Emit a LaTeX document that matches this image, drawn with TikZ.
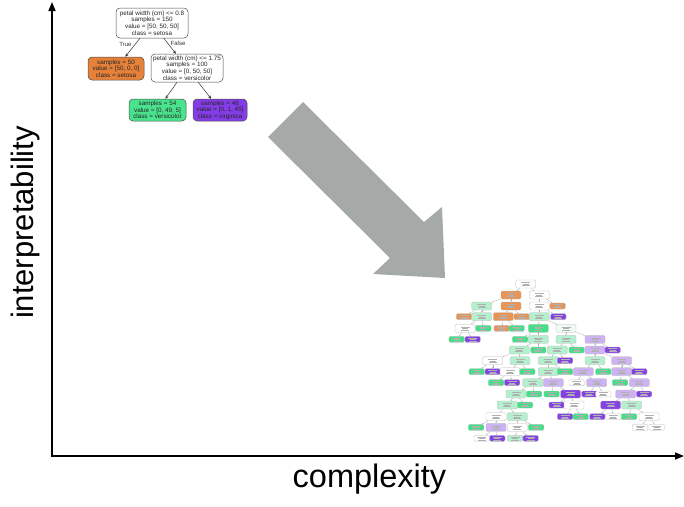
\documentclass[tikz,border=0pt]{standalone}
\usepackage{fontspec}
\setmainfont{Liberation Sans}
\usetikzlibrary{arrows.meta}
\definecolor{arrowgray}{HTML}{A5A9A8}
\definecolor{torange}{HTML}{E58139}
\definecolor{tgreen}{HTML}{4AE38D}
\definecolor{tpurple}{HTML}{843DE6}
\definecolor{corange}{HTML}{E89455}
\definecolor{cgreen}{HTML}{3FE184}
\definecolor{clgreen}{HTML}{B4F0CE}
\definecolor{cxgreen}{HTML}{EEFBF3}
\definecolor{cpurple}{HTML}{8442E3}
\definecolor{clpurple}{HTML}{CDB3F3}
\definecolor{txtgray}{HTML}{B0B0B0}
\begin{document}
\begin{tikzpicture}[x=1pt,y=-1pt,
  tbox/.style={draw=black!70, line width=0.5pt, rounded corners=4pt, inner sep=0pt,
    align=center, font=\fontsize{6.3}{6.6}\selectfont, text=black!85},
  tedge/.style={draw=black!80, line width=0.5pt, -{Stealth[length=3.5pt,width=3pt]}},
  elabel/.style={font=\fontsize{6}{6}\selectfont, text=black!80, inner sep=0pt},
  axis/.style={line width=1.6pt, -{Triangle[length=9pt,width=7pt]}},
  cnode/.style={draw=gray!55, line width=0.3pt, rounded corners=1.3pt, inner sep=0pt,
    path picture={\draw[txtgray, line width=0.3pt]
      ([shift={(-4.5pt,1.4pt)}]path picture bounding box.center) -- ++(9pt,0)
      ([shift={(-3pt,0pt)}]path picture bounding box.center) -- ++(6pt,0)
      ([shift={(-4pt,-1.4pt)}]path picture bounding box.center) -- ++(8pt,0);}},
  inode/.style={cnode, minimum width=20pt, minimum height=8pt},
  lnode/.style={cnode, minimum width=15.5pt, minimum height=6pt},
  cw/.style={fill=white}, co/.style={fill=corange}, cg/.style={fill=cgreen},
  clg/.style={fill=clgreen}, cxg/.style={fill=cxgreen}, cp/.style={fill=cpurple},
  clp/.style={fill=clpurple},
  cedge/.style={draw=gray!60, line width=0.3pt, -{Stealth[length=1.4pt,width=1.2pt]}}
]
\useasboundingbox (0,0) rectangle (684,506);

% axes
\coordinate (O) at (52,456);
\coordinate (ytip) at (52,2);
\coordinate (xtip) at (684,456);
\draw[axis] ([yshift=-0.8pt]O) -- (ytip);
\draw[axis] ([xshift=-0.8pt]O) -- (xtip);
\node[rotate=90, font=\fontsize{31}{31}\selectfont, inner sep=0pt] (ylab) at (25.5,222.5) {interpretability};
\node[font=\fontsize{32.5}{32.5}\selectfont, inner sep=0pt] (xlab) at (369.5,479) {complexity};

% big arrow
\fill[arrowgray] (303,102) -- (268,137) -- (390,258) -- (373,274) -- (445,278) -- (442,207) -- (424,222) -- cycle;

% small tree
\node[tbox, fill=white, minimum width=72pt, minimum height=30pt] (r) at (152,23)
  {petal width (cm) <= 0.8\\samples = 150\\value = [50, 50, 50]\\class = setosa};
\node[tbox, fill=torange, minimum width=56pt, minimum height=23pt] (l) at (116,68.5)
  {samples = 50\\value = [50, 0, 0]\\class = setosa};
\node[tbox, fill=white, minimum width=72pt, minimum height=28pt] (rr) at (187,68)
  {petal width (cm) <= 1.75\\samples = 100\\value = [0, 50, 50]\\class = versicolor};
\node[tbox, fill=tgreen, minimum width=57pt, minimum height=22pt] (g) at (157.5,110)
  {samples = 54\\value = [0, 49, 5]\\class = versicolor};
\node[tbox, fill=tpurple, minimum width=54pt, minimum height=22pt] (p) at (220,110)
  {samples = 46\\value = [0, 1, 45]\\class = virginica};
\draw[tedge] (r) -- (l);
\draw[tedge] (r) -- (rr);
\draw[tedge] (rr) -- (g);
\draw[tedge] (rr) -- (p);
\node[elabel] (tl) at (125.5,44) {True};
\node[elabel] (fl) at (178,43) {False};

% complex tree
\begin{scope}[shift={(440,270)}, x=0.33333pt, y=-0.33333pt]
\node[inode,cw] (R) at (257,42) {};
\node[inode,co] (A) at (213,75) {};
\node[inode,cw] (B) at (298,75) {};
\node[inode,clg] (C) at (125,108) {};
\node[inode,co] (D) at (213,108) {};
\node[inode,cw] (E) at (298,108) {};
\node[lnode,co] (F) at (353,108) {};
\node[lnode,co] (G) at (72,140) {};
\node[inode,clg] (H) at (125,140) {};
\node[inode,co] (I) at (190,140) {};
\node[lnode,co] (J) at (245,140) {};
\node[inode,clg] (K) at (298,140) {};
\node[lnode,cp] (L) at (355,140) {};
\node[inode,cw] (M) at (75,175) {};
\node[lnode,cg] (N) at (130,175) {};
\node[lnode,co] (Oo) at (185,175) {};
\node[lnode,cg] (P) at (230,175) {};
\node[inode,cg] (Q) at (295,175) {};
\node[inode,cxg] (S) at (378,175) {};
\node[lnode,cg] (M1) at (50,208) {};
\node[lnode,cp] (M2) at (98,208) {};
\node[lnode,cg] (Q1) at (240,208) {};
\node[inode,clg] (T2) at (295,208) {};
\node[inode,clg] (U1) at (378,208) {};
\node[inode,clp] (U2) at (465,208) {};
\node[inode,clg] (V) at (238,240) {};
\node[lnode,cg] (V2) at (295,240) {};
\node[inode,clg] (W) at (352,240) {};
\node[lnode,cg] (W2) at (410,240) {};
\node[inode,clp] (X) at (465,240) {};
\node[lnode,cp] (X2) at (518,240) {};
\node[inode,cw] (Y) at (158,272) {};
\node[inode,clg] (Z) at (240,272) {};
\node[inode,clg] (AA) at (325,272) {};
\node[lnode,cp] (W3) at (375,272) {};
\node[inode,clg] (AB) at (465,272) {};
\node[inode,clp] (AC) at (545,272) {};
\node[lnode,cg] (Y1) at (110,305) {};
\node[lnode,cp] (Y2) at (158,305) {};
\node[inode,cw] (AD) at (210,305) {};
\node[lnode,cg] (Z2) at (262,305) {};
\node[inode,clg] (AE) at (325,305) {};
\node[lnode,cg] (AA2) at (375,305) {};
\node[inode,clp] (AF) at (430,305) {};
\node[lnode,cg] (AB2) at (490,305) {};
\node[inode,clp] (AG) at (545,305) {};
\node[lnode,cp] (AC2) at (598,305) {};
\node[lnode,cg] (AD1) at (168,338) {};
\node[lnode,cp] (AD2) at (216,338) {};
\node[inode,clg] (AH) at (278,338) {};
\node[inode,clp] (AI) at (340,338) {};
\node[lnode,cw] (AF1) at (410,338) {};
\node[inode,clp] (AJ) at (470,338) {};
\node[lnode,cg] (AG1) at (540,338) {};
\node[inode,clp] (AK) at (598,338) {};
\node[inode,clg] (AL) at (228,372) {};
\node[lnode,cg] (AH2) at (282,372) {};
\node[lnode,cg] (AI1) at (335,372) {};
\node[inode,cp] (AM) at (392,372) {};
\node[lnode,cp] (AJ1) at (448,372) {};
\node[lnode,cw] (AJ2) at (490,372) {};
\node[inode,clp] (AN) at (557,372) {};
\node[lnode,cp] (AK2) at (612,372) {};
\node[inode,clg] (AR) at (202,405) {};
\node[lnode,cg] (AL2) at (255,405) {};
\node[lnode,cp] (AM1) at (350,405) {};
\node[inode,cw] (AM2) at (402,405) {};
\node[inode,cp] (AO) at (512,405) {};
\node[inode,clg] (AP) at (575,405) {};
\node[inode,cw] (AS) at (168,440) {};
\node[inode,clg] (AT) at (232,440) {};
\node[lnode,cp] (AM21) at (375,440) {};
\node[lnode,cg] (AM22) at (422,440) {};
\node[lnode,cp] (AO1) at (472,440) {};
\node[lnode,cw] (AO2) at (520,440) {};
\node[lnode,cg] (AP1) at (567,440) {};
\node[inode,cw] (AQ) at (627,440) {};
\node[lnode,cg] (AS1) at (108,472) {};
\node[inode,clp] (AU) at (168,472) {};
\node[inode,cw] (AV) at (232,472) {};
\node[lnode,cg] (AT2) at (288,472) {};
\node[lnode,cw] (AQ1) at (600,472) {};
\node[lnode,cw] (AQ2) at (650,472) {};
\node[lnode,cw] (AU1) at (125,505) {};
\node[lnode,cp] (AU2) at (172,505) {};
\node[lnode,clg] (AV1) at (225,505) {};
\node[lnode,cp] (AV2) at (272,505) {};
\foreach \a/\b in {R/A,R/B,A/C,A/D,B/E,B/F,C/G,C/H,D/I,D/J,E/K,E/L,H/M,H/N,I/Oo,I/P,
  K/Q,K/S,M/M1,M/M2,Q/Q1,Q/T2,S/U1,S/U2,T2/V,T2/V2,U1/W,U1/W2,U2/X,U2/X2,
  V/Y,V/Z,W/AA,W/W3,X/AB,X/AC,Y/Y1,Y/Y2,Z/AD,Z/Z2,AA/AE,AA/AA2,AB/AF,AB/AB2,
  AC/AG,AC/AC2,AD/AD1,AD/AD2,AE/AH,AE/AI,AF/AF1,AF/AJ,AG/AG1,AG/AK,
  AH/AL,AH/AH2,AI/AI1,AI/AM,AJ/AJ1,AJ/AJ2,AK/AN,AK/AK2,AL/AR,AL/AL2,
  AM/AM1,AM/AM2,AN/AO,AN/AP,AR/AS,AR/AT,AM2/AM21,AM2/AM22,AO/AO1,AO/AO2,
  AP/AP1,AP/AQ,AS/AS1,AS/AU,AT/AV,AT/AT2,AQ/AQ1,AQ/AQ2,AU/AU1,AU/AU2,AV/AV1,AV/AV2}
  {\draw[cedge] (\a) -- (\b);}
\end{scope}
\end{tikzpicture}
\end{document}
